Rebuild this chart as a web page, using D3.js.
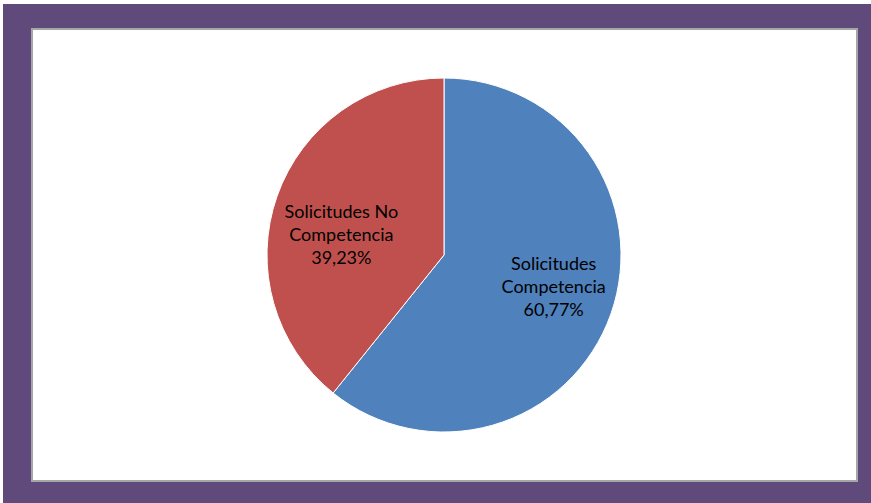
<!DOCTYPE html>
<html>
<head>
    <script src="https://d3js.org/d3.v7.min.js"></script>
    <style>
      html, body { margin: 0; padding: 0; background: #ffffff; }
      #chart { width: 871px; height: 503px; }
      .slice-label { font-family: "Lato", "Open Sans", sans-serif; font-size: 18px; fill: #000; }
    </style>
</head>
<body>
    <div id="chart"></div>
    <script>
    // values
    const categories = ["Solicitudes Competencia", "Solicitudes No Competencia"];
    const values = [60.77, 39.23];
    const labelLines = [["Solicitudes", "Competencia", "60,77%"], ["Solicitudes No", "Competencia", "39,23%"]];
    const colors = ["#4f81bd", "#c0504d"];

    const width = 871, height = 503;

    const svg = d3.select("#chart")
      .append("svg")
      .attr("width", width)
      .attr("height", height);

    // purple frame + inner plot area
    svg.append("rect")
      .attr("x", 3).attr("y", 4)
      .attr("width", width - 3).attr("height", height - 4)
      .attr("fill", "#5f4a7b");

    svg.append("rect")
      .attr("x", 32).attr("y", 29)
      .attr("width", 825).attr("height", 452)
      .attr("fill", "#ffffff")
      .attr("stroke", "#a6a6a6")
      .attr("stroke-width", 2);

    const cx = 444, cy = 255, radius = 177;

    const pie = d3.pie().sort(null).value(d => d);
    const arcs = pie(values);

    const arc = d3.arc().innerRadius(0).outerRadius(radius);
    const labelArc = d3.arc().innerRadius(112).outerRadius(112);

    const g = svg.append("g").attr("transform", `translate(${cx},${cy})`);

    g.selectAll(".slice")
      .data(arcs)
      .join("path")
      .attr("class", "slice")
      .attr("d", arc)
      .attr("fill", (d, i) => colors[i])
      .attr("stroke", "#ffffff")
      .attr("stroke-width", 1);

    // small nudges so labels sit like the original
    const nudge = [[4, -5], [3, 17]];
    const lineH = 23;

    const labels = g.selectAll(".slice-label")
      .data(arcs)
      .join("text")
      .attr("class", "slice-label")
      .attr("text-anchor", "middle")
      .attr("transform", (d, i) => {
        const c = labelArc.centroid(d);
        return `translate(${c[0] + nudge[i][0]},${c[1] + nudge[i][1]})`;
      });

    labels.selectAll("tspan")
      .data((d, i) => labelLines[i].map((t, k) => ({ t, k })))
      .join("tspan")
      .attr("x", 0)
      .attr("y", d => (d.k - 1) * lineH)
      .attr("dy", "0.35em")
      .text(d => d.t);
    </script>
</body>
</html>
